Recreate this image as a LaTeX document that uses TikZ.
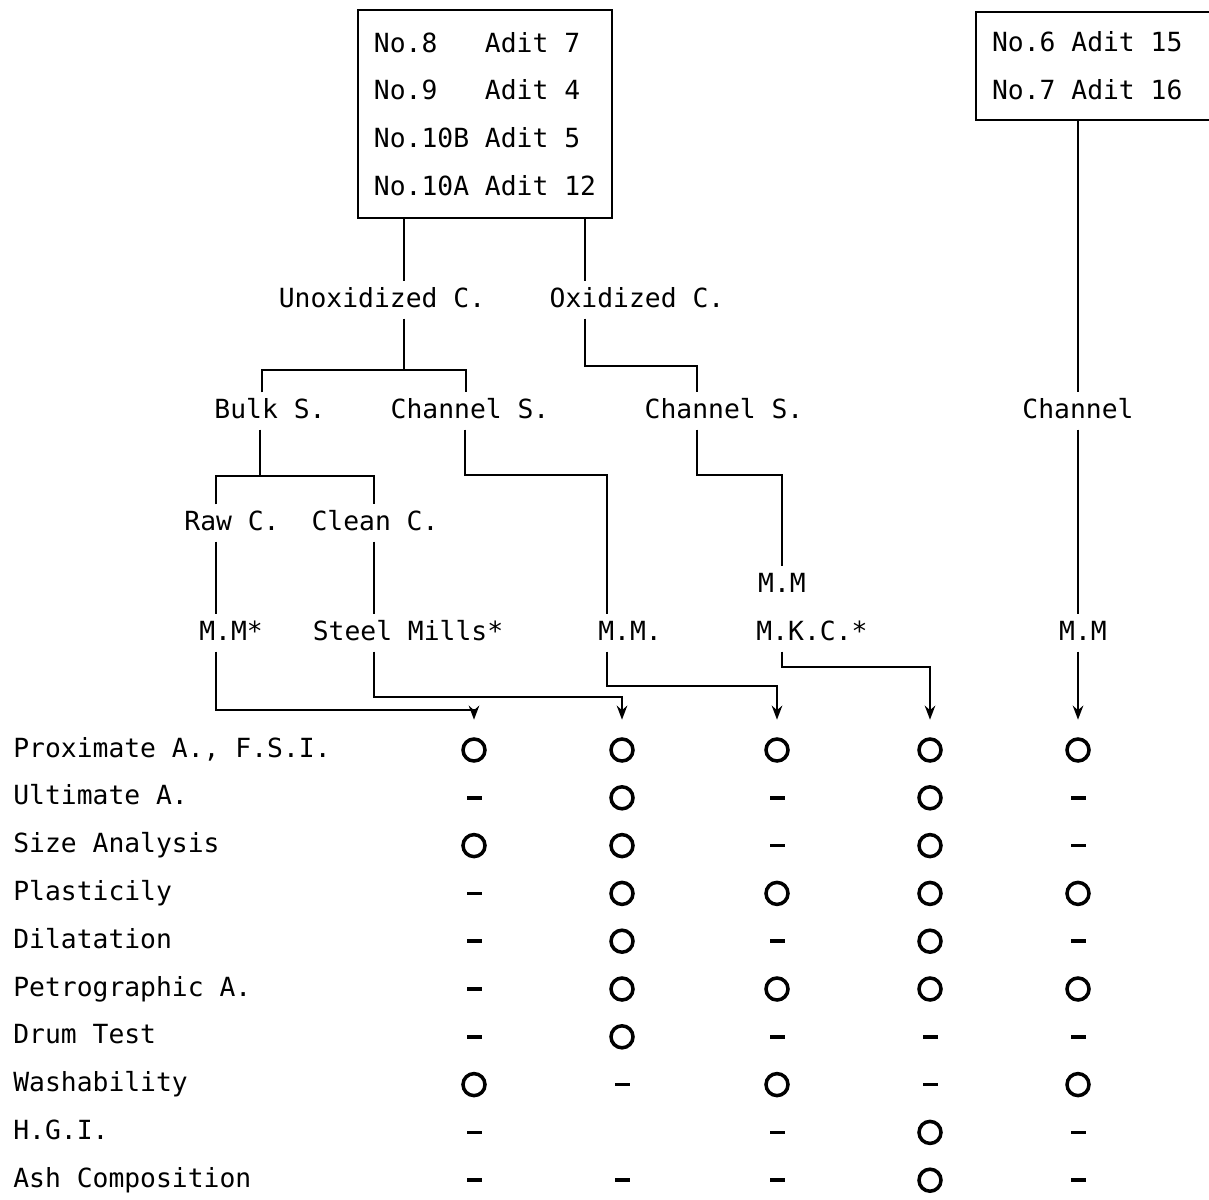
\documentclass[tikz,border=0pt]{standalone}
\usepackage{fontspec}
\setmainfont{DejaVu Sans Mono}
\usetikzlibrary{arrows.meta}

\begin{document}
\frenchspacing
\begin{tikzpicture}[
    x=0.02cm,
    y=-0.02cm,
    line width=1.2pt,
    every node/.style={font=\fontsize{15}{18}\selectfont},
    lbl/.style={inner sep=3pt, text height=11pt, text depth=3pt},
    box/.style={draw, align=left, inner xsep=0.32cm, inner ysep=4pt,
                font=\fontsize{15}{27.2}\selectfont},
    ring/.style={draw, circle, line width=2pt, minimum size=0.44cm, inner sep=0pt},
    nomark/.style={fill, minimum width=0.3cm, minimum height=2pt, inner sep=0pt},
    flow/.style={-{Stealth[length=8pt,width=6pt]}, shorten >=10pt}]

    \useasboundingbox (0,0) rectangle (1209,1199);

    % Sources
    \node[box, minimum height=4.16cm] (top) at (485,114)
      {No.8~~~Adit 7\\No.9~~~Adit 4\\No.10B Adit 5\\No.10A Adit 12};
    \node[box, anchor=west, minimum height=2.16cm] (src) at (975,66)
      {No.6 Adit 15\hspace*{1.2cm}\\No.7 Adit 16};

    % Coal state
    \node[lbl] (unox) at (382,300) {Unoxidized C.};
    \node[lbl] (oxid) at (637,300) {Oxidized C.};

    % Sampling
    \node[lbl] (bulk)  at (270,411)  {Bulk S.};
    \node[lbl] (chanU) at (470,411)  {Channel S.};
    \node[lbl] (chanO) at (724,411)  {Channel S.};
    \node[lbl] (chanR) at (1078,411) {Channel};

    \node[lbl] (raw)   at (232,523) {Raw C.};
    \node[lbl] (clean) at (375,523) {Clean C.};

    % Laboratories
    \node[lbl] (mmRaw) at (231,633)  {M.M*};
    \node[lbl] (steel) at (408,633)  {Steel Mills*};
    \node[lbl] (mmU)   at (630,633)  {M.M.};
    \node[lbl] (mmO)   at (782,585)  {M.M};
    \node[lbl] (mkc)   at (812,633)  {M.K.C.*};
    \node[lbl] (mmR)   at (1083,633) {M.M};

    % Bends and columns
    \coordinate (j1)  at (404,370);
    \coordinate (f1a) at (262,370);
    \coordinate (f1b) at (466,370);
    \coordinate (j2)  at (585,366);
    \coordinate (f2)  at (697,366);
    \coordinate (j3)  at (260,476);
    \coordinate (f3a) at (216,476);
    \coordinate (f3b) at (374,476);
    \coordinate (f4a) at (465,475);
    \coordinate (f4b) at (607,475);
    \coordinate (f5a) at (697,475);
    \coordinate (f5b) at (782,475);

    \coordinate (b1) at (474,710);
    \coordinate (b2) at (622,697);
    \coordinate (b3) at (777,686);
    \coordinate (b4) at (930,667);
    \coordinate (b5) at (1078,690);

    % Tests
    \foreach \lab [count=\r] in {{Proximate A., F.S.I.}, Ultimate A., Size Analysis,
        Plasticily, Dilatation, Petrographic A., Drum Test, Washability,
        H.G.I., Ash Composition}
      \node[lbl, anchor=west] (row\r) at (7, {750+(\r-1)*47.8}) {\lab};

    \foreach \c/\r in {1/1,1/3,1/8, 2/1,2/2,2/3,2/4,2/5,2/6,2/7,
        3/1,3/4,3/6,3/8, 4/1,4/2,4/3,4/4,4/5,4/6,4/9,4/10,
        5/1,5/4,5/6,5/8}
      \node[ring] (m\c-\r) at (b\c |- row\r) {};

    \foreach \c/\r in {1/2,1/4,1/5,1/6,1/7,1/9,1/10, 2/8,2/10,
        3/2,3/3,3/5,3/7,3/9,3/10, 4/7,4/8,
        5/2,5/3,5/5,5/7,5/9,5/10}
      \node[nomark] (m\c-\r) at (b\c |- row\r) {};

    % Tree
    \draw (top.south -| j1) -- (unox.north -| j1);
    \draw (top.south -| j2) -- (oxid.north -| j2);

    \draw (unox.south -| j1) -- (j1);
    \draw (bulk.north -| f1a) -- (f1a) -- (f1b) -- (chanU.north -| f1b);

    \draw (oxid.south -| j2) -- (j2) -- (f2) -- (chanO.north -| f2);

    \draw (bulk.south -| j3) -- (j3);
    \draw (raw.north -| f3a) -- (f3a) -- (f3b) -- (clean.north -| f3b);
    \draw (raw.south -| f3a) -- (mmRaw.north -| f3a);
    \draw (clean.south -| f3b) -- (steel.north -| f3b);

    \draw (chanU.south -| f4a) -- (f4a) -- (f4b) -- (mmU.north -| f4b);
    \draw (chanO.south -| f5a) -- (f5a) -- (f5b) -- (mmO.north -| f5b);

    \draw (src.south -| chanR) -- (chanR.north);
    \draw (chanR.south) -- (mmR.north -| chanR);

    % Into the table
    \draw[flow] (mmRaw.south -| f3a) |- (b1) -- (m1-1.north);
    \draw[flow] (steel.south -| f3b) |- (b2) -- (m2-1.north);
    \draw[flow] (mmU.south -| f4b) |- (b3) -- (m3-1.north);
    \draw[flow] (mkc.south -| f5b) |- (b4) -- (m4-1.north);
    \draw[flow] (mmR.south -| chanR) -- (m5-1.north);
\end{tikzpicture}
\end{document}
